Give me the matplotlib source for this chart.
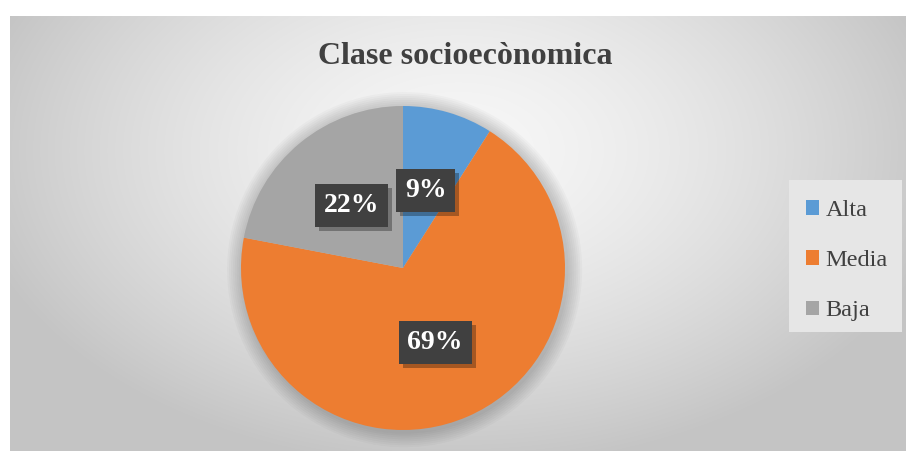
import numpy as np
import matplotlib
matplotlib.use("Agg")
import matplotlib.pyplot as plt
from matplotlib.patches import Rectangle, Circle
import matplotlib.patheffects as pe

categories = ["Alta", "Media", "Baja"]
values = [9, 69, 22]
colors = ["#5B9BD5", "#ED7D31", "#A5A5A5"]
title = "Clase socioecònomica"

W, H = 906, 451
fig = plt.figure(figsize=(W / 100, H / 100), dpi=100)
fig.patch.set_facecolor("white")

# background chart area with radial gradient
bx0, by0 = 10, 16
bg_ax = fig.add_axes([bx0 / W, 0, (W - bx0) / W, (H - by0) / H])
bg_ax.set_axis_off()
yy, xx = np.mgrid[by0:H, bx0:W]
r = np.sqrt(((xx - 458) / 500.0) ** 2 + ((yy - 150) / 320.0) ** 2)
r = np.clip(r, 0, 1)
g = 247 - (247 - 196) * r ** 1.5
img = np.dstack([g, g, g]) / 255.0
bg_ax.imshow(img, aspect="auto", interpolation="bilinear")

# legend background box
fig.patches.append(Rectangle((789 / W, 1 - 332 / H), (902 - 789) / W, (332 - 180) / H,
                             transform=fig.transFigure, facecolor="#e6e6e6",
                             edgecolor="none", zorder=1))

fig.text(465 / W, 1 - 57 / H, title, ha="center", va="center",
         family="Liberation Serif", fontweight="bold", fontsize=23, color="#404040")

# pie axes
cx, cy, R = 403, 268, 162
s = R * 1.12
ax = fig.add_axes([(cx - s) / W, (H - cy - s) / H, 2 * s / W, 2 * s / H])

for i in range(8):
    ax.add_patch(Circle((0.01, -0.01), 1.0 + 0.012 * (i + 1), facecolor="black",
                        edgecolor="none", alpha=0.025, zorder=0))

wedges, texts, autotexts = ax.pie(
    values, colors=colors, startangle=90, counterclock=False, radius=1.0,
    autopct=lambda p: f"{p:.0f}%", pctdistance=0.5,
    wedgeprops=dict(linewidth=0), frame=True)
ax.set_xlim(-1.12, 1.12)
ax.set_ylim(-1.12, 1.12)
ax.set_aspect("equal")
ax.set_axis_off()

for t in autotexts:
    t.set_family("Liberation Serif")
    t.set_fontweight("bold")
    t.set_fontsize(20)
    t.set_color("white")
    t.set_bbox(dict(boxstyle="square,pad=0.32", facecolor="#404040",
                    edgecolor="none", linewidth=0))
    t.get_bbox_patch().set_path_effects(
        [pe.SimplePatchShadow(offset=(3, -3), shadow_rgbFace="black", alpha=0.3),
         pe.Normal()])

leg = fig.legend(wedges, categories, loc="upper left",
                 bbox_to_anchor=(794 / W, 1 - 188 / H), frameon=False,
                 prop={"family": "Liberation Serif", "size": 17.5},
                 handlelength=0.54, handleheight=0.54, handletextpad=0.25,
                 labelspacing=1.2, borderpad=0)
for t in leg.get_texts():
    t.set_color("#404040")

fig.savefig("out.png", dpi=100, facecolor="white")
